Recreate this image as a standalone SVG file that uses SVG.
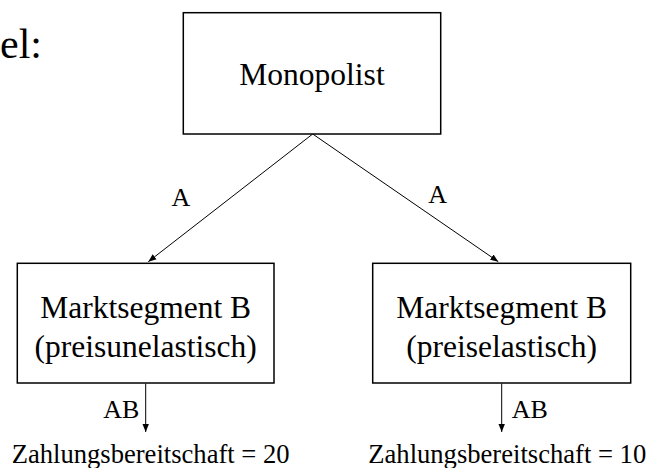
<svg xmlns="http://www.w3.org/2000/svg" width="648" height="468" viewBox="0 0 648 468">
<style>
text{fill:#000}
.box{fill:#fff;stroke:#000;stroke-width:1.5}
.big{font-size:31.5px;text-anchor:middle}
.lbl{font-size:26px}
.res{font-size:26.6px}
.edge{stroke:#000;stroke-width:1;fill:none;marker-end:url(#ah)}
</style>
<defs>
<marker id="ah" viewBox="0 0 10 10" refX="10" refY="5" markerWidth="8" markerHeight="8" markerUnits="userSpaceOnUse" orient="auto">
<path d="M0,1 L10,5 L0,9 Z" fill="#000"/>
</marker>
</defs>
<rect width="648" height="468" fill="#fff"/>
<text x="0" y="58" font-family="'Liberation Serif', serif" style="font-size:42px">el:</text>
<g id="connectors">
<path class="edge" d="M312.7,134 L148.3,261.7"/>
<path class="edge" d="M312.7,134 L498.3,261.7"/>
<path class="edge" d="M145.7,383.5 L145.7,432"/>
<path class="edge" d="M501.7,383.5 L501.7,432"/>
<text class="lbl" font-family="'Liberation Serif', serif" x="171.5" y="206">A</text>
<text class="lbl" font-family="'Liberation Serif', serif" x="428.3" y="203">A</text>
<text class="lbl" font-family="'Liberation Serif', serif" x="103.3" y="417.7">AB</text>
<text class="lbl" font-family="'Liberation Serif', serif" x="511.7" y="417.7">AB</text>
</g>
<g id="monopolist">
<rect class="box" x="183.3" y="12.7" width="257.4" height="121.3"/>
<text class="big" font-family="'Liberation Serif', serif" x="312" y="85">Monopolist</text>
</g>
<g id="segment-left">
<rect class="box" x="17.3" y="263.3" width="256.7" height="119.7"/>
<text class="big" font-family="'Liberation Serif', serif" x="145.7" y="318.3">Marktsegment B</text>
<text class="big" font-family="'Liberation Serif', serif" x="145.7" y="357">(preisunelastisch)</text>
</g>
<g id="segment-right">
<rect class="box" x="372.7" y="263.3" width="258" height="119.7"/>
<text class="big" font-family="'Liberation Serif', serif" x="501.7" y="318.3">Marktsegment B</text>
<text class="big" font-family="'Liberation Serif', serif" x="501.7" y="357">(preiselastisch)</text>
</g>
<g id="result-left">
<text class="res" font-family="'Liberation Serif', serif" x="11.7" y="463">Zahlungsbereitschaft = 20</text>
</g>
<g id="result-right">
<text class="res" font-family="'Liberation Serif', serif" x="368.3" y="463">Zahlungsbereitschaft = 10</text>
</g>
</svg>
